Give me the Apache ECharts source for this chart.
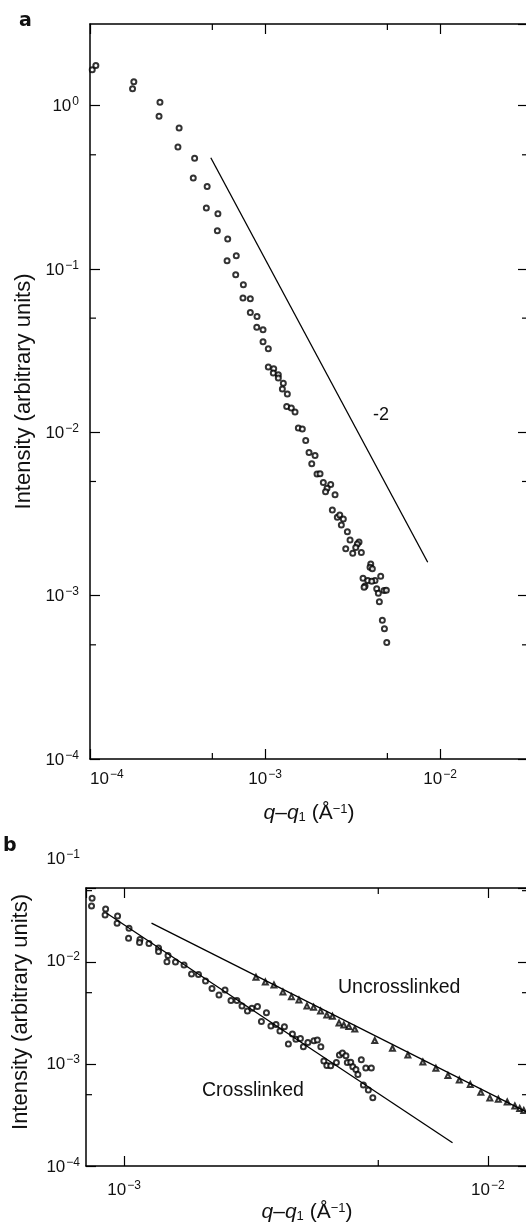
<!DOCTYPE html>
<html>
<head>
<meta charset="utf-8">
<script src="https://cdn.jsdelivr.net/npm/echarts@6/dist/echarts.min.js"></script>
<style>
html, body { margin: 0; padding: 0; background: #fff; overflow: hidden; }
#chart { width: 526px; height: 1226px; }
</style>
</head>
<body>
<div id="chart"></div>
<script>
// panel a: intensity vs q-q1, open circles + slope -2 guide
var aQ = [1.03e-4, 1.08e-4, 1.78e-4, 1.75e-4, 2.51e-4, 2.48e-4, 3.23e-4, 3.18e-4, 3.96e-4, 3.89e-4,
    4.67e-4, 4.62e-4, 5.38e-4, 5.34e-4, 6.12e-4, 6.07e-4, 6.85e-4, 6.80e-4, 7.52e-4, 7.48e-4,
    8.24e-4, 8.24e-4, 9.00e-4, 8.97e-4, 9.74e-4, 9.74e-4, 1.044e-3, 1.044e-3, 1.121e-3, 1.115e-3,
    1.191e-3, 1.191e-3, 1.272e-3, 1.256e-3, 1.341e-3, 1.330e-3, 1.413e-3, 1.484e-3, 1.550e-3, 1.633e-3,
    1.708e-3, 1.784e-3, 1.931e-3, 1.849e-3, 1.982e-3, 2.062e-3, 2.153e-3, 2.373e-3, 2.261e-3, 2.217e-3,
    2.512e-3, 2.424e-3, 2.588e-3, 2.672e-3, 2.801e-3, 2.729e-3, 2.954e-3, 3.06e-3, 3.444e-3, 3.368e-3,
    2.891e-3, 3.298e-3, 3.170e-3, 3.55e-3, 4.018e-3, 3.98e-3, 4.103e-3, 3.63e-3, 3.863e-3, 4.58e-3,
    4.25e-3, 4.07e-3, 3.727e-3, 3.68e-3, 4.346e-3, 4.786e-3, 4.933e-3, 4.44e-3, 4.50e-3, 4.68e-3,
    4.81e-3, 4.96e-3];
var aI = [1.66, 1.76, 1.40, 1.27, 1.05, 0.86, 0.730, 0.558, 0.476, 0.361,
    0.320, 0.236, 0.218, 0.1715, 0.1526, 0.1123, 0.1206, 0.0922, 0.0801, 0.0664,
    0.0657, 0.0542, 0.0512, 0.0439, 0.0425, 0.0358, 0.0325, 0.0251, 0.0245, 0.02305,
    0.0225, 0.0215, 0.0200, 0.0184, 0.01714, 0.01439, 0.01407, 0.0133, 0.01061, 0.01046,
    8.91e-3, 7.52e-3, 7.21e-3, 6.41e-3, 5.55e-3, 5.57e-3, 4.93e-3, 4.80e-3, 4.54e-3, 4.32e-3,
    4.14e-3, 3.35e-3, 3.02e-3, 3.12e-3, 2.95e-3, 2.71e-3, 2.46e-3, 2.19e-3, 2.13e-3, 2.07e-3,
    1.94e-3, 1.97e-3, 1.82e-3, 1.835e-3, 1.565e-3, 1.494e-3, 1.459e-3, 1.279e-3, 1.237e-3, 1.315e-3,
    1.237e-3, 1.226e-3, 1.147e-3, 1.126e-3, 1.104e-3, 1.074e-3, 1.08e-3, 1.035e-3, 9.19e-4, 7.07e-4,
    6.28e-4, 5.16e-4];
var aSlopeQ = [4.9e-4, 8.5e-3];
var aSlopeI = [0.48, 1.6e-3];

// panel b: crosslinked (circles) and uncrosslinked (triangles) with fits
var crossQ = [8.17e-4, 8.14e-4, 8.90e-4, 8.87e-4, 9.60e-4, 9.57e-4, 1.032e-3, 1.029e-3, 1.106e-3, 1.103e-3,
    1.171e-3, 1.244e-3, 1.244e-3, 1.321e-3, 1.312e-3, 1.385e-3, 1.462e-3, 1.533e-3, 1.602e-3, 1.675e-3,
    1.745e-3, 1.824e-3, 1.895e-3, 1.968e-3, 2.043e-3, 2.110e-3, 2.184e-3, 2.247e-3, 2.327e-3, 2.463e-3,
    2.386e-3, 2.534e-3, 2.617e-3, 2.683e-3, 2.760e-3, 2.903e-3, 2.83e-3, 2.968e-3, 3.054e-3, 3.112e-3,
    3.202e-3, 3.327e-3, 3.40e-3, 3.476e-3, 3.91e-3, 3.985e-3, 4.074e-3, 3.543e-3, 3.61e-3, 3.70e-3,
    3.835e-3, 4.11e-3, 4.20e-3, 4.256e-3, 4.34e-3, 4.49e-3, 4.395e-3, 4.62e-3, 4.785e-3, 4.55e-3,
    4.695e-3, 4.83e-3];
var crossI = [0.0421, 0.0354, 0.0331, 0.0289, 0.0282, 0.0240, 0.0214, 0.0171, 0.01662, 0.01553,
    0.01518, 0.01372, 0.01268, 0.01158, 0.01007, 0.0100, 9.35e-3, 7.63e-3, 7.54e-3, 6.51e-3,
    5.50e-3, 4.75e-3, 5.31e-3, 4.19e-3, 4.19e-3, 3.70e-3, 3.31e-3, 3.52e-3, 3.65e-3, 3.18e-3,
    2.61e-3, 2.36e-3, 2.44e-3, 2.11e-3, 2.32e-3, 1.97e-3, 1.57e-3, 1.747e-3, 1.778e-3, 1.477e-3,
    1.625e-3, 1.692e-3, 1.719e-3, 1.477e-3, 1.225e-3, 1.282e-3, 1.206e-3, 1.070e-3, 9.67e-4, 9.62e-4,
    1.034e-3, 1.034e-3, 1.039e-3, 9.41e-4, 8.83e-4, 1.102e-3, 7.89e-4, 9.14e-4, 9.14e-4, 6.22e-4,
    5.56e-4, 4.67e-4];
var uncrossQ = [2.305e-3, 2.446e-3, 2.583e-3, 2.734e-3, 2.885e-3, 3.026e-3, 3.183e-3, 3.32e-3, 3.47e-3, 3.61e-3,
    3.74e-3, 3.90e-3, 4.02e-3, 4.15e-3, 4.31e-3, 4.89e-3, 5.47e-3, 6.03e-3, 6.63e-3, 7.20e-3,
    7.77e-3, 8.35e-3, 8.95e-3, 9.57e-3, 1.013e-2, 1.069e-2, 1.131e-2, 1.187e-2, 1.224e-2, 1.256e-2];
var uncrossI = [7.08e-3, 6.37e-3, 5.95e-3, 5.08e-3, 4.57e-3, 4.24e-3, 3.70e-3, 3.60e-3, 3.31e-3, 3.02e-3,
    2.935e-3, 2.52e-3, 2.41e-3, 2.33e-3, 2.20e-3, 1.70e-3, 1.425e-3, 1.225e-3, 1.046e-3, 9.07e-4,
    7.72e-4, 6.97e-4, 6.30e-4, 5.28e-4, 4.64e-4, 4.51e-4, 4.24e-4, 3.88e-4, 3.66e-4, 3.50e-4];
var crossFitQ = [8.96e-4, 8.0e-3];
var crossFitI = [0.0300, 1.69e-4];
var uncrossFitQ = [1.19e-3, 1.3e-2];
var uncrossFitI = [0.0240, 3.28e-4];

// 5 x 10^n positions used for the small ticks
var minorValues = [5e-5, 5e-4, 5e-3, 5e-2, 5e-1, 5];

var FONT = '"Liberation Sans", Arial, Helvetica, sans-serif';
var INK = '#111';
var W = 526, H = 1226;
var G = {
    a: {left: 90, top: 24, right: -2, bottom: 467},
    b: {left: 86, top: 888, right: -2, bottom: 60},
    bLab: {left: 86, top: 858, right: -2, bottom: 60}
};

function zip(xs, ys) {
    return xs.map(function (x, i) { return [x, ys[i]]; });
}

function powerLabel(v) {
    var e = Math.round(Math.log(v) / Math.LN10);
    return '{b|10}{s|' + (e < 0 ? '\u2212' + (-e) : e) + '}';
}

var tickRich = {
    b: {fontSize: 17, fontFamily: FONT, color: INK, lineHeight: 19, verticalAlign: 'bottom'},
    s: {fontSize: 12, fontFamily: FONT, color: INK, lineHeight: 12, verticalAlign: 'top', padding: [0, 0, 0, 1]}
};

function axis(gridIndex, position, min, max, extra) {
    var o = {
        type: 'log', logBase: 10, gridIndex: gridIndex, position: position,
        min: min, max: max,
        axisLine: {show: true, lineStyle: {color: '#000', width: 1.5}},
        axisTick: {show: true, inside: true, length: 10, lineStyle: {color: '#000', width: 1.2}},
        axisLabel: {show: false},
        splitLine: {show: false},
        minorTick: {show: false},
        minorSplitLine: {show: false}
    };
    for (var k in extra) o[k] = extra[k];
    return o;
}

function labels(margin, more) {
    var o = {show: true, formatter: powerLabel, margin: margin, rich: tickRich,
        showMinLabel: true, showMaxLabel: false};
    for (var k in more) o[k] = more[k];
    return o;
}

var xName = '{i|q}{n|\u2013}{i|q}{sub|1}{n| (\u00c5}{sup|\u22121}{n|)}';
var xNameStyle = {
    fontSize: 21, fontFamily: FONT, color: INK,
    rich: {
        i: {fontSize: 21, fontStyle: 'italic', fontFamily: FONT, color: INK},
        n: {fontSize: 21, fontFamily: FONT, color: INK},
        sub: {fontSize: 13, fontFamily: FONT, color: INK, verticalAlign: 'bottom'},
        sup: {fontSize: 13, fontFamily: FONT, color: INK, verticalAlign: 'top'}
    }
};
var yNameStyle = {fontSize: 22, fontFamily: FONT, color: INK};

function grid(g) {
    return {left: g.left, top: g.top, right: g.right, bottom: g.bottom,
        containLabel: false, outerBoundsMode: 'none'};
}

var chart = echarts.init(document.getElementById('chart'));

var option = {
    animation: false,
    backgroundColor: '#fff',
    grid: [grid(G.a), grid(G.b), grid(G.bLab)],
    xAxis: [
        axis(0, 'bottom', 1e-4, 0.0318, {
            axisLabel: labels(10, {alignMinLabel: 'left'}),
            name: xName, nameLocation: 'middle', nameGap: 44, nameTextStyle: xNameStyle
        }),
        axis(0, 'top', 1e-4, 0.0318, {}),
        axis(1, 'bottom', 7.86e-4, 0.0129, {
            axisLabel: labels(14, {showMinLabel: false}),
            name: xName, nameLocation: 'middle', nameGap: 36, nameTextStyle: xNameStyle
        }),
        axis(1, 'top', 7.86e-4, 0.0129, {}),
        {type: 'log', gridIndex: 2, show: false, min: 7.86e-4, max: 0.0129}
    ],
    yAxis: [
        axis(0, 'left', 1e-4, 3.16, {
            axisLabel: labels(11, {}),
            name: 'Intensity (arbitrary units)', nameLocation: 'middle', nameGap: 53,
            nameTextStyle: yNameStyle
        }),
        axis(0, 'right', 1e-4, 3.16, {}),
        axis(1, 'left', 1e-4, 0.0531, {}),
        axis(1, 'right', 1e-4, 0.0531, {}),
        axis(2, 'left', 1e-4, 0.1, {
            axisLine: {show: false},
            axisTick: {show: false},
            axisLabel: labels(6, {showMaxLabel: true}),
            name: 'Intensity (arbitrary units)', nameLocation: 'middle', nameGap: 54,
            nameTextStyle: yNameStyle
        })
    ],
    series: [
        {
            name: 'a data', type: 'scatter', xAxisIndex: 0, yAxisIndex: 0,
            symbol: 'emptyCircle', symbolSize: 5,
            itemStyle: {color: '#000', borderColor: '#000', borderWidth: 1},
            data: zip(aQ, aI)
        },
        {
            name: 'slope -2', type: 'line', xAxisIndex: 0, yAxisIndex: 0,
            symbol: 'none', lineStyle: {color: '#000', width: 1.3},
            data: zip(aSlopeQ, aSlopeI)
        },
        {
            name: 'Crosslinked', type: 'scatter', xAxisIndex: 2, yAxisIndex: 2,
            symbol: 'emptyCircle', symbolSize: 5,
            itemStyle: {color: '#000', borderColor: '#000', borderWidth: 1},
            data: zip(crossQ, crossI)
        },
        {
            name: 'Uncrosslinked', type: 'scatter', xAxisIndex: 2, yAxisIndex: 2,
            symbol: 'emptyTriangle', symbolSize: 5,
            itemStyle: {color: '#000', borderColor: '#000', borderWidth: 1},
            data: zip(uncrossQ, uncrossI)
        },
        {
            name: 'Crosslinked fit', type: 'line', xAxisIndex: 2, yAxisIndex: 2,
            symbol: 'none', lineStyle: {color: '#000', width: 1.3},
            data: zip(crossFitQ, crossFitI)
        },
        {
            name: 'Uncrosslinked fit', type: 'line', xAxisIndex: 2, yAxisIndex: 2,
            symbol: 'none', lineStyle: {color: '#000', width: 1.3},
            data: zip(uncrossFitQ, uncrossFitI)
        }
    ]
};

chart.setOption(option);

// text annotations and the short 5x10^n ticks on all four sides
function txt(s, x, y, size, weight, align, family) {
    return {
        type: 'text', x: x, y: y, silent: true,
        style: {
            text: s, fill: INK, fontSize: size, fontFamily: family || FONT, fontWeight: weight || 'normal',
            align: align || 'left', textAlign: align || 'left',
            verticalAlign: 'middle', textVerticalAlign: 'middle'
        }
    };
}

function tick(x1, y1, x2, y2) {
    return {type: 'line', silent: true, shape: {x1: x1, y1: y1, x2: x2, y2: y2},
        style: {stroke: '#000', lineWidth: 1.2}};
}

var els = [
    txt('a', 19, 21, 19, 'bold', 'left', '"DejaVu Sans", sans-serif'),
    txt('b', 3, 846, 19, 'bold', 'left', '"DejaVu Sans", sans-serif'),
    txt('-2', 381, 415, 18, 'normal', 'center'),
    txt('Uncrosslinked', 338, 988, 19.5),
    txt('Crosslinked', 202, 1091, 19.5)
];

[[0, G.a], [2, G.b]].forEach(function (p) {
    var idx = p[0], g = p[1];
    var x0 = g.left, x1 = W - g.right, y0 = g.top, y1 = H - g.bottom;
    minorValues.forEach(function (v) {
        var px = chart.convertToPixel({xAxisIndex: idx}, v);
        if (px > x0 + 1 && px < x1 - 1) {
            els.push(tick(px, y1, px, y1 - 6));
            els.push(tick(px, y0, px, y0 + 6));
        }
        var py = chart.convertToPixel({yAxisIndex: idx}, v);
        if (py > y0 + 1 && py < y1 - 1) {
            els.push(tick(x0, py, x0 + 6, py));
            els.push(tick(x1, py, x1 - 6, py));
        }
    });
});

chart.setOption({graphic: els});
</script>
</body>
</html>
